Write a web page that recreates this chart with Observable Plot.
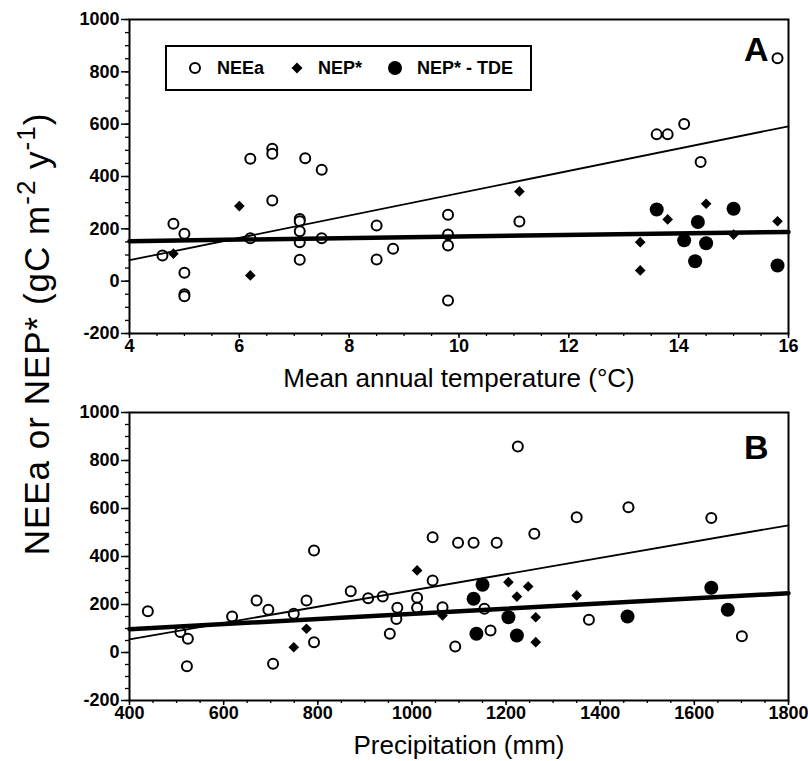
<!DOCTYPE html>
<html><head><meta charset="utf-8">
<script src="https://cdn.jsdelivr.net/npm/d3@7"></script>
<script src="https://cdn.jsdelivr.net/npm/@observablehq/plot@0.6"></script>
<style>
body{margin:0;background:#fff;font-family:"Liberation Sans",Arial,Helvetica,sans-serif;}
#wrap{position:relative;width:808px;height:761px;overflow:hidden;}
#wrap svg{display:block;}
#ylab{position:absolute;left:37px;top:334px;transform:translate(-50%,-50%) rotate(-90deg);white-space:nowrap;font-size:35px;letter-spacing:1px;color:#000;}
#ylab sup{font-size:26px;vertical-align:0.55em;line-height:0;}
#legend{position:absolute;left:165px;top:45px;width:363px;height:42px;border:2px solid #000;background:#fff;}
#legend .sym{position:absolute;top:13px;width:16px;height:16px;}
#legend .lab{position:absolute;top:0;height:42px;line-height:42px;font-size:18px;font-weight:bold;}
</style>
</head><body>
<div id="wrap">
  <div id="charts"></div>
  <div id="ylab">NEEa or NEP* (gC m<sup>-2</sup> y<sup>-1</sup>)</div>
  <div id="legend">
    <svg class="sym" style="left:20px" viewBox="-8 -8 16 16"><circle r="5" fill="#fff" stroke="#000" stroke-width="2"/></svg>
    <span class="lab" style="left:50px">NEEa</span>
    <svg class="sym" style="left:122px" viewBox="-8 -8 16 16"><path d="M0,-5.5L5.5,0L0,5.5L-5.5,0Z" fill="#000"/></svg>
    <span class="lab" style="left:151px">NEP*</span>
    <svg class="sym" style="left:220px" viewBox="-8 -8 16 16"><circle r="7" fill="#000"/></svg>
    <span class="lab" style="left:250px">NEP* - TDE</span>
  </div>
</div>
<script>
// ---------- Panel A: mean annual temperature (°C) ----------
const neeaTemp = [4.6, 4.8, 5.0, 5.0, 5.0, 5.0, 6.2, 6.6, 6.6, 6.6, 6.2, 7.2, 7.5, 7.1, 7.1, 7.1, 7.1, 7.1, 7.5, 8.5, 8.5, 8.8, 9.8, 9.8, 9.8, 9.8, 11.1, 13.6, 13.8, 14.1, 14.4, 15.8];
const neeaTempVal = [98, 219, 181, 32, -50, -58, 468, 506, 487, 308, 164, 470, 426, 238, 229, 191, 149, 82, 164, 213, 83, 124, 254, 178, 136, -74, 228, 561, 561, 601, 455, 852];
const nepTemp = [4.8, 6.0, 6.2, 11.1, 13.3, 13.3, 13.8, 14.5, 15.0, 15.8];
const nepTempVal = [105, 287, 22, 343, 149, 41, 236, 296, 178, 229];
const tdeTemp = [13.6, 14.1, 14.35, 14.3, 14.5, 15.0, 15.8];
const tdeTempVal = [274, 156, 226, 76, 145, 277, 60];
const fitTempX = [4, 16];
const fitTempNEEa = [80, 592];
const fitTempNEP = [153, 188];

// ---------- Panel B: precipitation (mm) ----------
const neeaPrecip = [439, 508, 524, 522, 618, 670, 695, 705, 749, 776, 792, 792, 870, 907, 938, 953, 969, 967, 1011, 1011, 1044, 1044, 1065, 1092, 1098, 1131, 1154, 1167, 1180, 1225, 1260, 1350, 1376, 1460, 1636, 1701];
const neeaPrecipVal = [172, 85, 57, -57, 150, 217, 178, -47, 161, 217, 425, 43, 255, 226, 233, 78, 186, 140, 228, 186, 480, 300, 189, 25, 457, 457, 182, 92, 457, 858, 495, 564, 136, 605, 560, 68];
const nepPrecip = [749, 776, 1011, 1065, 1205, 1223, 1247, 1263, 1263, 1350];
const nepPrecipVal = [22, 99, 342, 154, 293, 233, 275, 147, 43, 238];
const tdePrecip = [1131, 1137, 1150, 1205, 1223, 1458, 1636, 1671];
const tdePrecipVal = [224, 78, 282, 147, 71, 150, 270, 178];
const fitPrecipX = [400, 1800];
const fitPrecipNEEa = [55, 530];
const fitPrecipNEP = [97, 247];

// ---------- ticks ----------
const yTicks = [-200, 0, 200, 400, 600, 800, 1000];
const yMinor = d3.range(-200, 1001, 50);
const tempTicks = [4, 6, 8, 10, 12, 14, 16];
const tempMinor = d3.range(4, 16.01, 0.5);
const precipTicks = [400, 600, 800, 1000, 1200, 1400, 1600, 1800];
const precipMinor = d3.range(400, 1801, 50);

const pts = (xs, ys) => xs.map((x, i) => ({x, y: ys[i]}));
const FONT = "'Liberation Sans', Arial, Helvetica, sans-serif";
const fmt = d => String(d);

function panel({height, marginTop, marginBottom, xDomain, xTicks, xMinor, neea, nep, tde, fitX, fitA, fitB, letter, letterDy, xLabel}) {
  return Plot.plot({
    width: 808, height,
    marginLeft: 129, marginRight: 20, marginTop, marginBottom,
    style: {fontFamily: FONT, fontSize: "18px", fontWeight: "bold", background: "white", color: "black", overflow: "visible"},
    x: {domain: xDomain},
    y: {domain: [-200, 1000]},
    marks: [
      Plot.axisY({ticks: yMinor, tickSize: 4, tickFormat: () => "", label: null, strokeWidth: 1.3}),
      Plot.axisY({ticks: yTicks, tickSize: 8, tickPadding: 2, tickFormat: fmt, fontSize: 18, fontWeight: "bold", label: null, strokeWidth: 1.5}),
      Plot.axisX({ticks: xMinor, tickSize: 3, tickFormat: () => "", label: null, strokeWidth: 1.3}),
      Plot.axisX({ticks: xTicks, tickSize: 5, tickPadding: 1, tickFormat: fmt, fontSize: 18, fontWeight: "bold", label: null, strokeWidth: 1.5}),
      Plot.frame({stroke: "black", strokeWidth: 2}),
      Plot.dot(neea, {x: "x", y: "y", r: 5, stroke: "black", fill: "white", strokeWidth: 2}),
      Plot.line(pts(fitX, fitA), {x: "x", y: "y", stroke: "black", strokeWidth: 1.8}),
      Plot.line(pts(fitX, fitB), {x: "x", y: "y", stroke: "black", strokeWidth: 4.5}),
      Plot.dot(nep, {x: "x", y: "y", symbol: "diamond2", r: 4.8, fill: "black", stroke: "none"}),
      Plot.dot(tde, {x: "x", y: "y", r: 7, fill: "black", stroke: "none"}),
      Plot.text([letter], {frameAnchor: "top-right", dx: -20, dy: letterDy, fontSize: 34, fontWeight: "bold", textAnchor: "end", lineAnchor: "middle", fill: "black"}),
      Plot.text([xLabel], {frameAnchor: "bottom", dy: 45, fontSize: 26, fontWeight: "normal", lineAnchor: "middle", fill: "black"})
    ]
  });
}

const chartA = panel({
  height: 400, marginTop: 19, marginBottom: 67,
  xDomain: [4, 16], xTicks: tempTicks, xMinor: tempMinor,
  neea: pts(neeaTemp, neeaTempVal), nep: pts(nepTemp, nepTempVal), tde: pts(tdeTemp, tdeTempVal),
  fitX: fitTempX, fitA: fitTempNEEa, fitB: fitTempNEP,
  letter: "A", letterDy: 31, xLabel: "Mean annual temperature (°C)"
});
const chartB = panel({
  height: 361, marginTop: 12, marginBottom: 61,
  xDomain: [400, 1800], xTicks: precipTicks, xMinor: precipMinor,
  neea: pts(neeaPrecip, neeaPrecipVal), nep: pts(nepPrecip, nepPrecipVal), tde: pts(tdePrecip, tdePrecipVal),
  fitX: fitPrecipX, fitA: fitPrecipNEEa, fitB: fitPrecipNEP,
  letter: "B", letterDy: 36, xLabel: "Precipitation (mm)"
});
document.getElementById("charts").append(chartA, chartB);
</script>
</body></html>
